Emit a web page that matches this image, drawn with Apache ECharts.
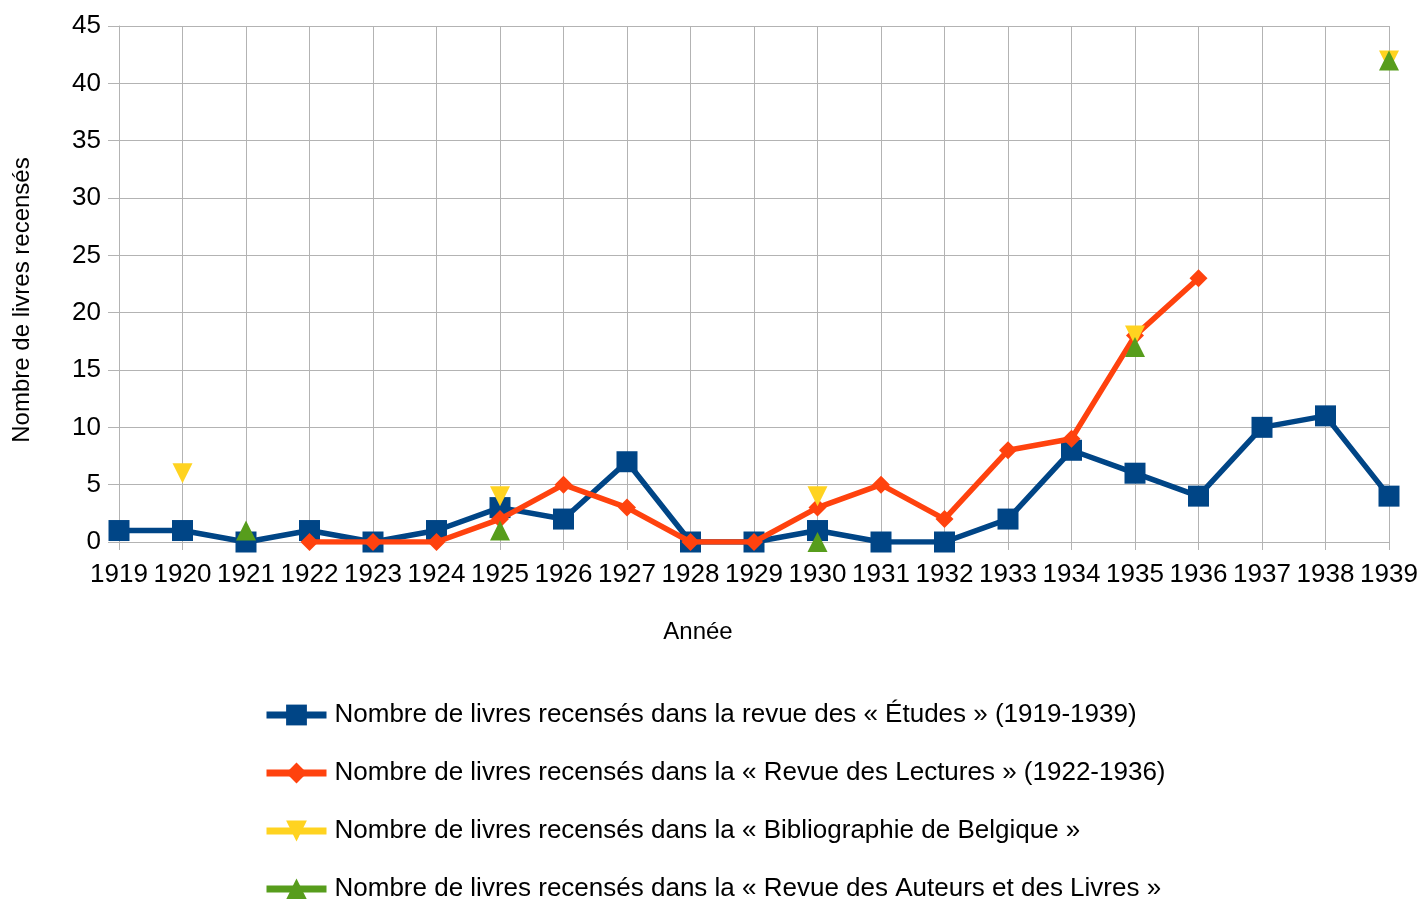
<!DOCTYPE html>
<html><head><meta charset="utf-8">
<script src="https://cdn.jsdelivr.net/npm/echarts@6/dist/echarts.min.js"></script>
<style>html,body{margin:0;padding:0;background:#fff}#c{width:1419px;height:899px}</style>
</head><body><div id="c"></div>
<script>
const years = ['1919','1920','1921','1922','1923','1924','1925','1926','1927','1928','1929','1930','1931','1932','1933','1934','1935','1936','1937','1938','1939'];
const etudes = [1,1,0,1,0,1,3,2,7,0,0,1,0,0,2,8,6,4,10,11,4];
const lectures = [null,null,null,0,0,0,2,5,3,0,0,3,5,2,8,9,18,23,null,null,null];
const biblio = [null,6,null,null,null,null,4,null,null,null,null,4,null,null,null,null,18,null,null,null,42];
const auteurs = [null,null,1,null,null,null,1,null,null,null,null,0,null,null,null,null,17,null,null,null,42];
const names = [
  'Nombre de livres recensés dans la revue des « Études » (1919-1939)',
  'Nombre de livres recensés dans la « Revue des Lectures » (1922-1936)',
  'Nombre de livres recensés dans la « Bibliographie de Belgique »',
  'Nombre de livres recensés dans la « Revue des Auteurs et des Livres »'
];
const font = '"Liberation Sans", Arial, sans-serif';
const chart = echarts.init(document.getElementById('c'));
function ser(name, data, color, symbol, size, z){
  return {name, type:'line', data, symbol, symbolSize:size, connectNulls:false,
    lineStyle:{color, width:5.5}, itemStyle:{color}, z, animation:false, showAllSymbol:true};
}
chart.setOption({
  animation:false,
  color:['#004586','#ff420e','#ffd320','#579d1c'],
  grid:{left:119, right:30, top:26, bottom:357, containLabel:false, outerBoundsMode:'none'},
  xAxis:{type:'category', data:years, boundaryGap:false,
    name:'Année', nameLocation:'middle', nameGap:78,
    nameTextStyle:{fontFamily:font, fontSize:24, color:'#000', padding:[0,112,0,0]},
    axisLine:{lineStyle:{color:'#b3b3b3', width:1}},
    axisTick:{show:true, length:8, lineStyle:{color:'#b3b3b3'}},
    axisLabel:{fontFamily:font, fontSize:26, color:'#000', margin:20, interval:0},
    splitLine:{show:true, lineStyle:{color:'#b3b3b3', width:1}}},
  yAxis:{type:'value', min:0, max:45, interval:5,
    name:'Nombre de livres recensés', nameLocation:'middle', nameGap:85, nameRotate:90,
    nameTextStyle:{fontFamily:font, fontSize:24, color:'#000', padding:[0,32,0,0]},
    axisLine:{show:true, lineStyle:{color:'#b3b3b3', width:1}},
    axisTick:{show:true, length:11, lineStyle:{color:'#b3b3b3'}},
    axisLabel:{fontFamily:font, fontSize:26, color:'#000', margin:18},
    splitLine:{show:true, lineStyle:{color:'#b3b3b3', width:1}}},
  legend:{orient:'vertical', left:258, top:697, height:260, itemWidth:60, itemHeight:26, itemGap:32,
    lineStyle:{width:7},
    textStyle:{fontFamily:font, fontSize:26, color:'#000', padding:[0,0,0,3]}, data:names},
  series:[
    ser(names[0], etudes, '#004586', 'rect', 21, 2),
    ser(names[1], lectures, '#ff420e', 'diamond', 18, 3),
    ser(names[2], biblio, '#ffd320', 'path://M0,0 L10,0 L5,10 Z', 20, 4),
    ser(names[3], auteurs, '#579d1c', 'triangle', 20, 5)
  ]
});
</script></body></html>
